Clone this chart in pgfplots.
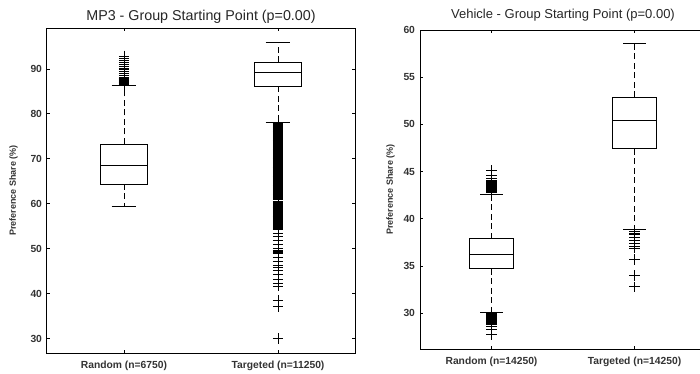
\documentclass[border=0pt]{standalone}
\usepackage{pgfplots}
\pgfplotsset{compat=1.18}
\usepackage{fontspec}
\setmainfont{Liberation Sans}
\pgfplotsset{
  mybox/.style={
    axis line style={line width=1pt},
    scale only axis,
    xmin=0.5, xmax=2.5,
    xtick={1,2},
    tick align=inside,
    major tick length=3pt,
    tick style={black, line width=0.8pt},
    xtick pos=both, ytick pos=both,
    tick label style={font=\fontsize{10.3}{11}\selectfont\bfseries, text=black!80},
    yticklabel style={xshift=-1.5pt},
    xticklabel style={yshift=-4pt},
    /pgf/number format/assume math mode=true,
    ylabel style={font=\fontsize{9}{10}\selectfont\bfseries, text=black!80},
  },
  boxs/.style={black, line width=0.9pt, fill=white},
  med/.style={black, line width=0.9pt},
  wh/.style={black, line width=0.9pt, dash pattern=on 6pt off 3.5pt},
  cap/.style={black, line width=0.9pt},
  outl/.style={black, only marks, mark=+, mark size=5.2pt, mark options={line width=0.7pt}},
}
\begin{document}
\begin{tikzpicture}
\useasboundingbox (0pt,0pt) rectangle (700pt,373pt);
% ---------------- Left panel
\begin{axis}[mybox,
  at={(47pt,20pt)}, anchor=south west,
  width=308pt, height=325pt,
  ymin=26.8, ymax=99.1,
  ytick={30,40,50,60,70,80,90},
  xticklabels={Random (n=6750), Targeted (n=11250)},
  title={MP3 - Group Starting Point (p=0.00)},
  title style={font=\fontsize{14.3}{15}\selectfont, text=black!85, at={(0.5,1)}, anchor=center, yshift=5pt},
  ylabel={Preference Share (\%)},
  ylabel shift=6pt,
]
% Random
\addplot[wh] coordinates {(1,73.3)(1,86.4)};
\addplot[wh] coordinates {(1,64.4)(1,59.5)};
\addplot[cap] coordinates {(0.92,86.4)(1.08,86.4)};
\addplot[cap] coordinates {(0.92,59.5)(1.08,59.5)};
\addplot[boxs] coordinates {(0.845,64.4)(1.155,64.4)(1.155,73.3)(0.845,73.3)} -- cycle;
\addplot[med] coordinates {(0.845,68.6)(1.155,68.6)};
\addplot[outl] coordinates {
(1,86.5)(1,86.6)(1,86.7)(1,86.8)(1,86.9)(1,87.0)(1,87.1)(1,87.2)(1,87.3)(1,87.4)
(1,87.5)(1,87.6)(1,87.7)(1,87.8)(1,87.9)(1,88.0)(1,88.2)(1,88.5)(1,89.0)(1,89.4)
(1,89.8)(1,90.2)(1,90.6)(1,91.0)(1,91.4)(1,91.8)(1,92.3)(1,92.9)
};
% Targeted
\addplot[wh] coordinates {(2,91.5)(2,95.9)};
\addplot[wh] coordinates {(2,86.1)(2,78.2)};
\addplot[cap] coordinates {(1.92,95.9)(2.08,95.9)};
\addplot[cap] coordinates {(1.92,78.2)(2.08,78.2)};
\addplot[boxs] coordinates {(1.845,86.1)(2.155,86.1)(2.155,91.5)(1.845,91.5)} -- cycle;
\addplot[med] coordinates {(1.845,89.2)(2.155,89.2)};
\addplot[outl] coordinates {
(2,78.0)(2,77.8)(2,77.6)(2,77.4)(2,77.2)(2,77.0)(2,76.8)(2,76.6)(2,76.4)(2,76.2)
(2,76.0)(2,75.8)(2,75.6)(2,75.4)(2,75.2)(2,75.0)(2,74.8)(2,74.6)(2,74.4)(2,74.2)
(2,74.0)(2,73.8)(2,73.6)(2,73.4)(2,73.2)(2,73.0)(2,72.8)(2,72.6)(2,72.4)(2,72.2)
(2,72.0)(2,71.8)(2,71.6)(2,71.4)(2,71.2)(2,71.0)(2,70.8)(2,70.6)(2,70.4)(2,70.2)
(2,70.0)(2,69.8)(2,69.6)(2,69.4)(2,69.2)(2,69.0)(2,68.8)(2,68.6)(2,68.4)(2,68.2)
(2,68.0)(2,67.8)(2,67.6)(2,67.4)(2,67.2)(2,67.0)(2,66.8)(2,66.6)(2,66.4)(2,66.2)
(2,66.0)(2,65.8)(2,65.6)(2,65.4)(2,65.2)(2,65.0)(2,64.8)(2,64.6)(2,64.4)(2,64.2)
(2,64.0)(2,63.8)(2,63.6)(2,63.4)(2,63.2)(2,63.0)(2,62.8)(2,62.6)(2,62.4)(2,62.2)
(2,62.0)(2,61.8)(2,61.6)(2,61.4)(2,61.2)(2,61.0)(2,60.5)(2,60.3)(2,60.1)
(2,59.9)(2,59.7)(2,59.5)(2,59.3)(2,59.1)(2,58.9)(2,58.7)(2,58.5)(2,58.3)(2,58.1)
(2,57.9)(2,57.7)(2,57.5)(2,57.3)(2,57.1)(2,56.9)(2,56.7)(2,56.5)(2,56.3)(2,56.1)
(2,55.9)(2,55.6)(2,55.4)(2,55.2)(2,55.0)(2,54.8)(2,54.6)(2,54.4)(2,54.2)
(2,53.5)(2,52.8)(2,51.9)(2,51.0)(2,50.1)(2,49.7)(2,49.5)(2,49.3)(2,49.1)(2,48.9)
(2,48.0)(2,47.2)(2,46.4)(2,45.8)(2,45.2)(2,44.3)(2,43.2)(2,42.3)(2,41.7)
(2,38.6)(2,37.1)(2,30.0)
};
\end{axis}
% ---------------- Right panel
\begin{axis}[mybox,
  at={(420pt,24pt)}, anchor=south west,
  width=286pt, height=319pt,
  ymin=26.2, ymax=60,
  ytick={30,35,40,45,50,55,60},
  xticklabels={Random (n=14250), Targeted (n=14250)},
  title={Vehicle - Group Starting Point (p=0.00)},
  title style={font=\fontsize{13}{14}\selectfont, text=black!85, at={(0.5,1)}, anchor=center, yshift=9pt},
  ylabel={Preference Share (\%)},
  ylabel shift=2pt,
]
% Random
\addplot[wh] coordinates {(1,37.9)(1,42.6)};
\addplot[wh] coordinates {(1,34.7)(1,30.1)};
\addplot[cap] coordinates {(0.92,42.6)(1.08,42.6)};
\addplot[cap] coordinates {(0.92,30.1)(1.08,30.1)};
\addplot[boxs] coordinates {(0.845,34.7)(1.155,34.7)(1.155,37.9)(0.845,37.9)} -- cycle;
\addplot[med] coordinates {(0.845,36.2)(1.155,36.2)};
\addplot[outl] coordinates {
(1,42.8)(1,42.9)(1,43.0)(1,43.1)(1,43.2)(1,43.3)(1,43.4)(1,43.5)(1,43.6)(1,43.7)
(1,43.8)(1,43.9)(1,44.0)(1,44.1)(1,44.3)(1,44.6)(1,45.1)
(1,30.0)(1,29.9)(1,29.8)(1,29.7)(1,29.6)(1,29.5)(1,29.4)(1,29.3)(1,29.2)(1,29.1)
(1,29.0)(1,28.9)(1,28.8)(1,28.6)(1,28.3)(1,27.7)
};
% Targeted
\addplot[wh] coordinates {(2,52.9)(2,58.6)};
\addplot[wh] coordinates {(2,47.4)(2,38.9)};
\addplot[cap] coordinates {(1.92,58.6)(2.08,58.6)};
\addplot[cap] coordinates {(1.92,38.9)(2.08,38.9)};
\addplot[boxs] coordinates {(1.845,47.4)(2.155,47.4)(2.155,52.9)(1.845,52.9)} -- cycle;
\addplot[med] coordinates {(1.845,50.4)(2.155,50.4)};
\addplot[outl] coordinates {
(2,38.7)(2,38.5)(2,38.3)(2,38.0)(2,37.7)(2,37.4)(2,37.1)(2,36.9)
(2,35.7)(2,34.0)(2,32.8)
};
\end{axis}
\end{tikzpicture}
\end{document}
